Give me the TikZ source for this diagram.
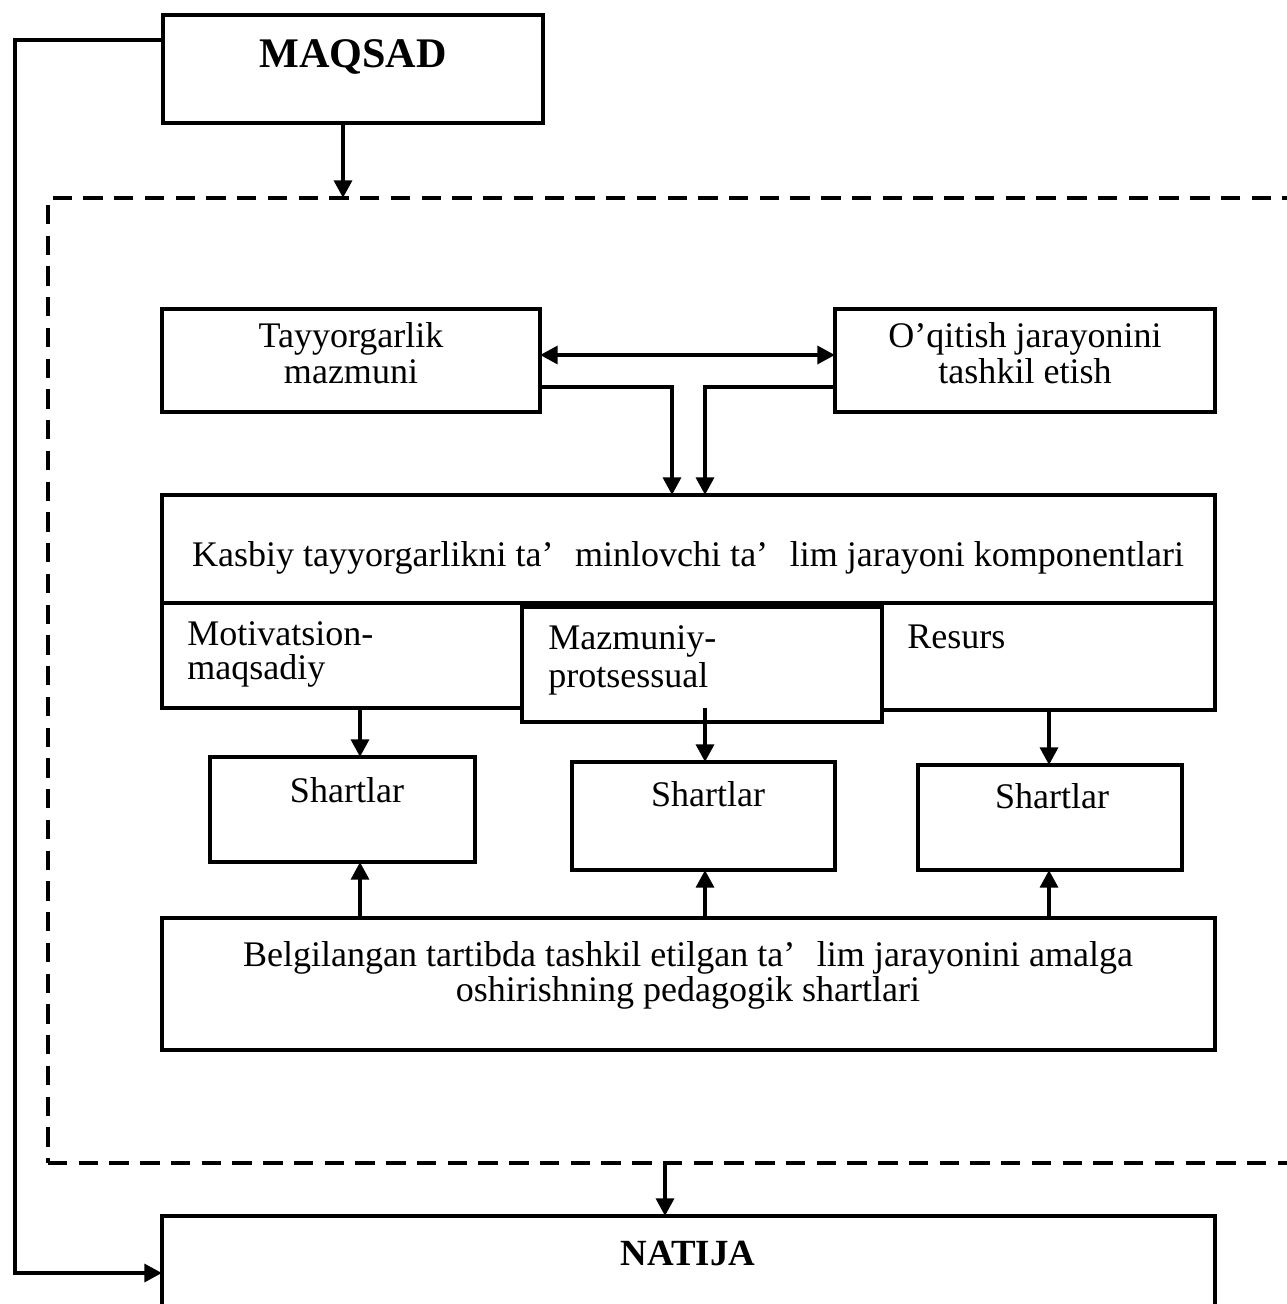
\documentclass[tikz,border=0pt]{standalone}
\usepackage{fontspec}
\setmainfont{Liberation Serif}
\usetikzlibrary{arrows.meta,fit}
\tikzset{
  box/.style={draw, line width=2.6pt, inner sep=0pt, outer sep=0pt},
  dashbox/.style={draw, line width=2.6pt, inner sep=0pt, outer sep=0pt, dash pattern=on 11pt off 6.5pt},
  txt/.style={anchor=base, inner sep=0pt, font=\fontsize{20.5}{22.5}\selectfont},
  ltxt/.style={anchor=base west, inner sep=0pt, font=\fontsize{20.5}{22.5}\selectfont},
  btxt/.style={anchor=base, inner sep=0pt, font=\fontsize{24}{27}\selectfont\bfseries},
  conn/.style={line width=2.4pt},
  arr/.style={line width=2.4pt, -{Triangle[length=10pt,width=10pt]}},
  dbl/.style={line width=2.4pt, {Triangle[length=10pt,width=10pt]}-{Triangle[length=10pt,width=10pt]}},
}
\begin{document}
\begin{tikzpicture}[x=0.02cm,y=-0.02cm]
\clip (0,0) rectangle (1287,1304);
\fill[white] (0,0) rectangle (1287,1304);
% boxes
\node[box, fit={(163,15) (543,123)}] (maq) {};
\node[dashbox, fit={(48,198) (1330,1163)}] (frame) {};
\node[box, fit={(162,309) (540,412)}] (tay) {};
\node[box, fit={(835,309) (1215,412)}] (oqi) {};
\node[box, fit={(162,495) (1215,603)}] (kas) {};
\node[box, fit={(162,603) (522,708)}] (mot) {};
\node[box, fit={(522,607) (882,722)}] (maz) {};
\node[box, fit={(882,603) (1215,710)}] (res) {};
\node[box, fit={(210,757) (475,862)}] (sh1) {};
\node[box, fit={(572,762) (835,870)}] (sh2) {};
\node[box, fit={(918,765) (1182,870)}] (sh3) {};
\node[box, fit={(162,918) (1215,1050)}] (bel) {};
\node[box, fit={(162,1216) (1215,1340)}] (nat) {};
% texts
\node[btxt] (tmaq) at (353,68) {MAQSAD};
\node[txt] (ttay1) at (351,347) {Tayyorgarlik};
\node[txt] (ttay2) at (351,383) {mazmuni};
\node[txt] (toqi1) at (1025,347) {O’qitish jarayonini};
\node[txt] (toqi2) at (1025,383) {tashkil etish};
\node[txt] (tkas) at (688,566) {Kasbiy tayyorgarlikni ta’\hspace{0.6em}minlovchi ta’\hspace{0.6em}lim jarayoni komponentlari};
\node[ltxt] (tmot1) at (187,645) {Motivatsion-};
\node[ltxt] (tmot2) at (187,679) {maqsadiy};
\node[ltxt] (tmaz1) at (548,649) {Mazmuniy-};
\node[ltxt] (tmaz2) at (548,687) {protsessual};
\node[ltxt] (tres) at (907,648) {Resurs};
\node[txt] (tsh1) at (347,802) {Shartlar};
\node[txt] (tsh2) at (708,806) {Shartlar};
\node[txt] (tsh3) at (1052,808) {Shartlar};
\node[txt] (tbel1) at (688,966) {Belgilangan tartibda tashkil etilgan ta’\hspace{0.6em}lim jarayonini amalga};
\node[txt] (tbel2) at (688,1001) {oshirishning pedagogik shartlari};
\node[btxt, font=\fontsize{21}{24}\selectfont\bfseries] (tnat) at (688,1265) {NATIJA};
% helper coordinates
\coordinate (c1) at (15,40);
\coordinate (c2) at (15,1273);
\coordinate (xa) at (343,0);
\coordinate (xb) at (665,0);
\coordinate (y1) at (0,355);
\coordinate (y2) at (0,387);
\coordinate (xl) at (672,0);
\coordinate (xr) at (705,0);
\coordinate (x1) at (360,0);
\coordinate (x2) at (705,0);
\coordinate (x3) at (1049,0);
\coordinate (m2) at (705,708);
% connectors
\draw[arr] (maq.west |- c1) -- (c1) -- (c2) -- (nat.west |- c2);
\draw[arr] (maq.south -| xa) -- (frame.north -| xa);
\draw[arr] (frame.south -| xb) -- (nat.north -| xb);
\draw[dbl] (tay.east |- y1) -- (oqi.west |- y1);
\draw[arr] (tay.east |- y2) -- (xl |- y2) -- (kas.north -| xl);
\draw[arr] (oqi.west |- y2) -- (xr |- y2) -- (kas.north -| xr);
\draw[arr] (mot.south -| x1) -- (sh1.north -| x1);
\draw[arr] (m2) -- (sh2.north -| x2);
\draw[arr] (res.south -| x3) -- (sh3.north -| x3);
\draw[arr] (bel.north -| x1) -- (sh1.south -| x1);
\draw[arr] (bel.north -| x2) -- (sh2.south -| x2);
\draw[arr] (bel.north -| x3) -- (sh3.south -| x3);
\end{tikzpicture}
\end{document}
